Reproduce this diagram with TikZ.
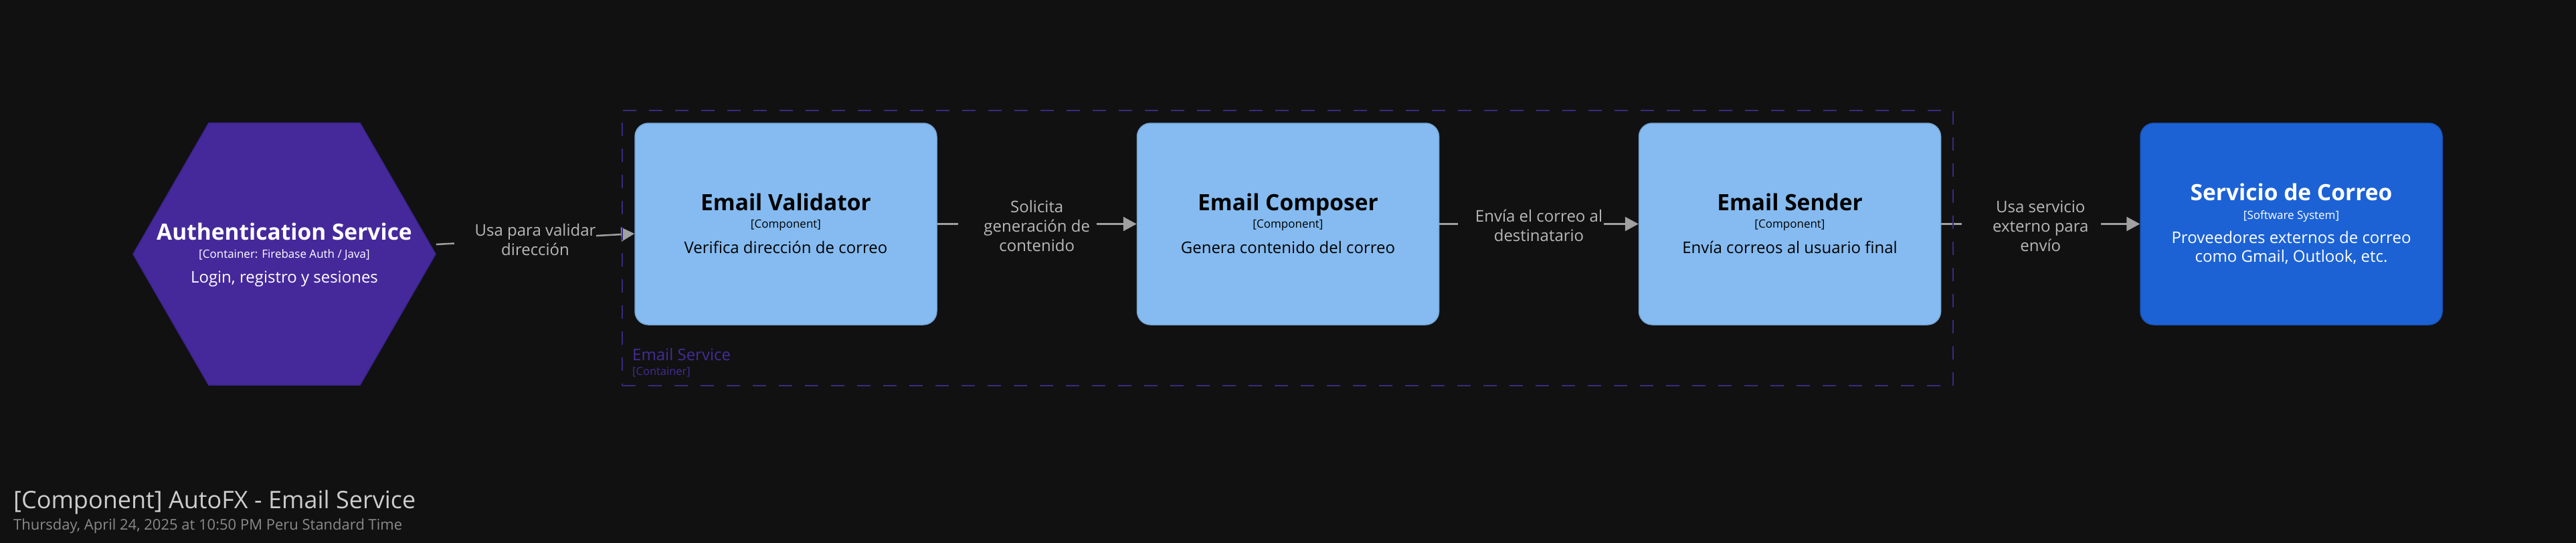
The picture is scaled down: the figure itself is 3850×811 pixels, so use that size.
\documentclass[tikz,border=0pt]{standalone}
\usepackage{fontspec}
\setmainfont{Open Sans}
\usetikzlibrary{shapes.geometric,arrows.meta,calc}
\pgfdeclarelayer{bgl}
\pgfdeclarelayer{mid}
\pgfsetlayers{bgl,mid,main}
\definecolor{bg}{HTML}{111111}
\definecolor{hexfill}{HTML}{45299B}
\definecolor{hexdraw}{HTML}{3C2490}
\definecolor{compfill}{HTML}{85BBF0}
\definecolor{compdraw}{HTML}{76A6D6}
\definecolor{extfill}{HTML}{1C62D5}
\definecolor{extdraw}{HTML}{1856BF}
\definecolor{bnd}{HTML}{3A2A80}
\definecolor{bndtext}{HTML}{432D96}
\definecolor{linegrey}{HTML}{A0A0A0}
\definecolor{lbltext}{HTML}{B8B8B8}
\definecolor{titletext}{HTML}{CCCCCC}
\definecolor{subtext}{HTML}{8A8A8A}
\begin{document}
\begin{tikzpicture}[x=1pt,y=-1pt,
  hexa/.style={regular polygon, regular polygon sides=6, minimum size=452pt, inner sep=0pt,
    fill=hexfill, draw=hexdraw, line width=1.5pt},
  compbox/.style={rectangle, rounded corners=20pt, minimum width=451pt, minimum height=301pt,
    inner sep=0pt, fill=compfill, draw=compdraw, line width=1.5pt},
  extbox/.style={compbox, fill=extfill, draw=extdraw},
  ttl/.style={font=\fontsize{33.5}{40}\selectfont\bfseries, anchor=base, inner sep=0pt},
  tech/.style={font=\fontsize{17}{20}\selectfont, anchor=base, inner sep=0pt},
  desc/.style={font=\fontsize{24}{28}\selectfont, anchor=base, inner sep=0pt, align=center},
  lbl/.style={font=\fontsize{24}{29}\selectfont, text=lbltext, align=center, inner sep=0pt},
  arr/.style={draw=linegrey, line width=2.5pt, -{Triangle[length=20pt,width=21pt]}},
  lblbg/.style={fill=bg},
  boundary/.style={rectangle, draw=bnd, line width=2pt, dash pattern=on 20pt off 19pt,
    minimum width=1989pt, minimum height=411pt, inner sep=0pt}
]
\begin{pgfonlayer}{bgl}
\fill[bg] (0,0) rectangle (3850,811);
\end{pgfonlayer}
\useasboundingbox (0,0) rectangle (3850,811);

% boundary
\node[boundary] (es) at (1924.5,370.5) {};
\node[font=\fontsize{24}{28}\selectfont, text=bndtext, anchor=base west, inner sep=0pt]
  (esname) at ([xshift=16pt,yshift=39pt]es.south west) {Email Service};
\node[font=\fontsize{16.5}{19}\selectfont, text=bndtext, anchor=base west, inner sep=0pt]
  (estype) at ([xshift=16pt,yshift=17pt]es.south west) {[Container]};

% hexagon
\node[hexa] (auth) at (425,379.5) {};
\node[ttl, text=white] (authT) at ([yshift=21.5pt]auth.center) {Authentication Service};
\node[tech, text=white] (authK) at ([yshift=-5.5pt]auth.center) {[Container: Firebase Auth / Java]};
\node[desc, text=white] (authD) at ([yshift=-42.5pt]auth.center) {Login, registro y sesiones};

% components
\node[compbox] (val) at (1174.5,334.5) {};
\node[ttl] (valT) at ([yshift=20.5pt]val.center) {Email Validator};
\node[tech] (valK) at ([yshift=-5.5pt]val.center) {[Component]};
\node[desc] (valD) at ([yshift=-43.5pt]val.center) {Verifica dirección de correo};

\node[compbox] (cmp) at (1925,334.5) {};
\node[ttl] (cmpT) at ([yshift=20.5pt]cmp.center) {Email Composer};
\node[tech] (cmpK) at ([yshift=-5.5pt]cmp.center) {[Component]};
\node[desc] (cmpD) at ([yshift=-43.5pt]cmp.center) {Genera contenido del correo};

\node[compbox] (snd) at (2675,334.5) {};
\node[ttl] (sndT) at ([yshift=20.5pt]snd.center) {Email Sender};
\node[tech] (sndK) at ([yshift=-5.5pt]snd.center) {[Component]};
\node[desc] (sndD) at ([yshift=-43.5pt]snd.center) {Envía correos al usuario final};

\node[extbox] (ext) at (3424.5,334.5) {};
\node[ttl, text=white] (extT) at ([yshift=35.5pt]ext.center) {Servicio de Correo};
\node[tech, text=white] (extK) at ([yshift=7.5pt]ext.center) {[Software System]};
\node[desc, text=white] (extD1) at ([yshift=-28.5pt]ext.center) {Proveedores externos de correo};
\node[desc, text=white] (extD2) at ([yshift=-56.5pt]ext.center) {como Gmail, Outlook, etc.};

% connectors
\coordinate (a1s) at ([yshift=14.5pt]auth.east);
\coordinate (a1e) at ([yshift=-14.5pt]val.west);
\node[lbl] (l1) at ($(a1s)!0.5!(a1e)+(0,1)$) {Usa para validar\\dirección};
\node[lbl] (l2) at ($(val.east)!0.5!(cmp.west)+(0,3)$) {Solicita\\generación de\\contenido};
\node[lbl] (l3) at ($(cmp.east)!0.5!(snd.west)+(0,2)$) {Envía el correo al\\destinatario};
\node[lbl] (l4) at ($(snd.east)!0.5!(ext.west)+(0,3)$) {Usa servicio\\externo para\\envío};

\begin{pgfonlayer}{bgl}
\draw[arr] (a1s) -- (a1e);
\draw[arr] (val.east) -- (cmp.west);
\draw[arr] (cmp.east) -- (snd.west);
\draw[arr] (snd.east) -- (ext.west);
\end{pgfonlayer}
\begin{pgfonlayer}{mid}
\fill[lblbg] ($(l1.north west)+(-30,-2)$) rectangle ($(l1.south east)+(0,2)$);
\fill[lblbg] ($(l2.north west)+(-38,-2)$) rectangle ($(l2.south east)+(10,2)$);
\fill[lblbg] ($(l3.north west)+(-26,-2)$) rectangle ($(l3.south east)+(2,2)$);
\fill[lblbg] ($(l4.north west)+(-46,-2)$) rectangle ($(l4.south east)+(18,2)$);
\end{pgfonlayer}

% footer
\node[font=\fontsize{36}{41}\selectfont, text=titletext, anchor=base west, inner sep=0pt]
  (title) at (20,759) {[Component] AutoFX - Email Service};
\node[font=\fontsize{22}{26}\selectfont, text=subtext, anchor=base west, inner sep=0pt]
  (subtitle) at (20,791) {Thursday, April 24, 2025 at 10:50 PM Peru Standard Time};
\end{tikzpicture}
\end{document}
